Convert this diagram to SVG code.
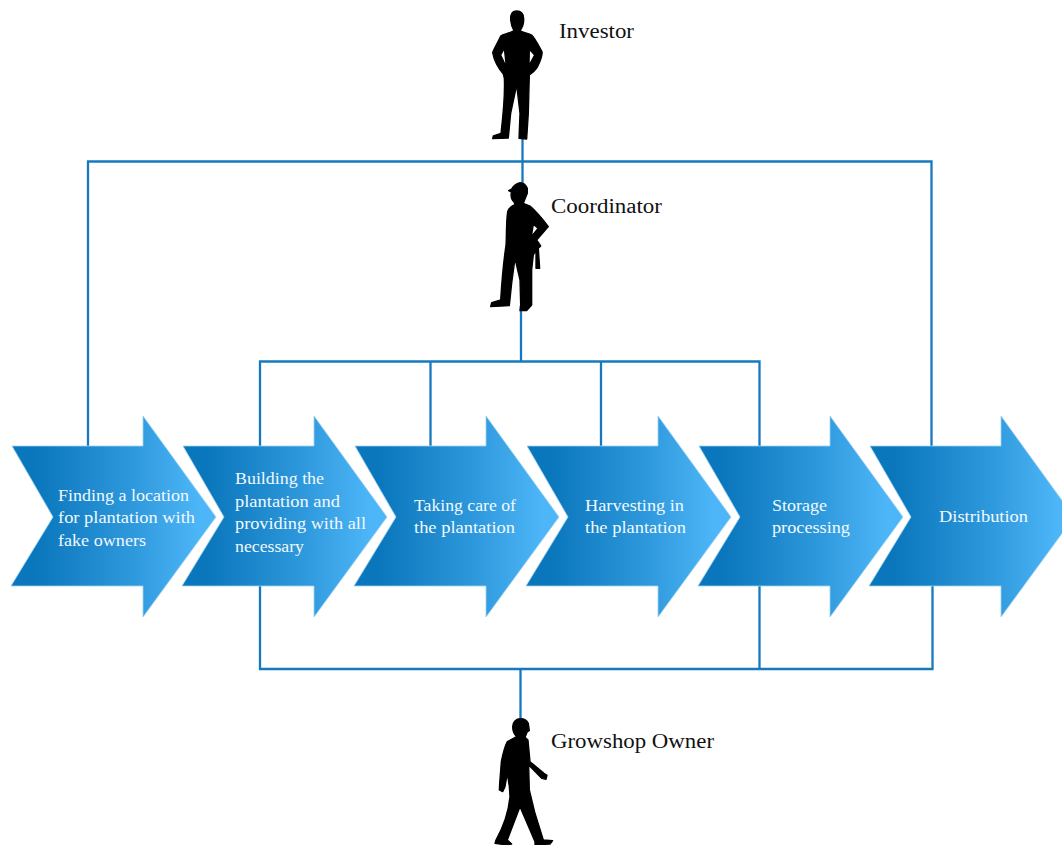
<svg xmlns="http://www.w3.org/2000/svg" width="1062" height="845" viewBox="0 0 1062 845">
<style>
.c{fill:none;stroke:#1679bf;stroke-width:2.300}
.a{fill:url(#g);stroke:#9dd2f3;stroke-width:1;stroke-opacity:.8}
.t{font-family:"Liberation Serif","Times New Roman",serif;font-size:17px;fill:#f2f9fe}
.l{font-family:"Liberation Serif","Times New Roman",serif;font-size:20px;fill:#111}
.p{fill:#000;fill-rule:evenodd;stroke:#000;stroke-width:4;stroke-linejoin:round}
</style>
<defs>
<linearGradient id="g" x1="0" y1="0" x2="1" y2="0"><stop offset=".12" stop-color="#0a76bb"/><stop offset=".6" stop-color="#2f99dd"/><stop offset=".92" stop-color="#4db6f8"/></linearGradient>
<path id="arrow" d="M0 30H131V0L204 101L131 201V170H-1L41 101Z"/>
</defs>
<g id="connectors">
<path class="c" d="M522.500 137V185M88 446V161.500H931.500V446"/>
<path class="c" d="M521 305V361.500M260 446V361.500H759.500V446M430.500 361.500V446M601 361.500V446"/>
<path class="c" d="M260 586V669H932.500V586M759.500 586V669M520.500 669V722"/>
</g>
<g id="investor"><path class="p" transform="translate(470 0) scale(.3333)" d="M140 33C125 33 121 45 122 60C123 75 128 85 132 92C118 100 100 102 92 108C85 125 72 145 68 158C72 180 85 205 100 222L103 235C105 280 100 340 93 400L70 408L68 416L115 414L122 340L140 255L150 340L147 415L170 417L175 340L178 225C190 215 200 210 205 195C212 180 218 165 216 155C205 135 195 115 185 105C175 100 160 98 150 92C158 82 162 70 161 55C160 40 152 33 140 33ZM103 145L92 165L106 195L108 190ZM178 148L194 165L177 197Z"/><text class="l" x="559" y="37.500" textLength="75" lengthAdjust="spacingAndGlyphs">Investor</text></g>
<g id="coordinator"><path class="p" transform="translate(470 170) scale(.3333)" d="M150 38C138 40 128 50 125 57L116 62L124 66C122 78 124 90 132 96L135 103C125 108 116 112 113 125C108 160 110 200 108 225C100 280 95 340 92 390L65 398L62 410L118 407L125 340L135 265L150 330L152 405L150 422L170 422L185 405L185 300L190 255L198 242L198 295L209 295L205 235L212 228L200 210L235 170C220 150 200 125 180 108L160 100L172 70L172 55C168 45 160 38 150 38ZM190 163L204 175L184 200Z"/><text class="l" x="551" y="212.500" textLength="111" lengthAdjust="spacingAndGlyphs">Coordinator</text></g>
<g id="growshop-owner"><path class="p" transform="translate(470 690) scale(.3333)" d="M152 86C138 86 128 96 128 110C128 125 135 135 140 140L112 155C104 170 98 195 94 215L89 280L88 300L98 305L105 290L112 250L118 290L120 320C115 370 95 420 78 450L75 460L110 465L125 462L112 450L150 350L195 455L195 465L240 462L248 452L220 450L195 370L178 300L176 225L215 265L228 268L231 256L222 250L180 215L174 150L165 142L172 125L178 122L175 100C170 90 162 86 152 86Z"/><text class="l" x="551" y="747.500" textLength="163" lengthAdjust="spacingAndGlyphs">Growshop Owner</text></g>
<g id="step1"><use href="#arrow" class="a" x="12" y="416"/><text class="t" x="58" y="500.500" textLength="131" lengthAdjust="spacingAndGlyphs">Finding a location</text><text class="t" x="58" y="522.500" textLength="137" lengthAdjust="spacingAndGlyphs">for plantation with</text><text class="t" x="58" y="545.500" textLength="88" lengthAdjust="spacingAndGlyphs">fake owners</text></g>
<g id="step2"><use href="#arrow" class="a" x="183" y="416"/><text class="t" x="235" y="483.500" textLength="89" lengthAdjust="spacingAndGlyphs">Building the</text><text class="t" x="235" y="506.500" textLength="105" lengthAdjust="spacingAndGlyphs">plantation and</text><text class="t" x="235" y="528.500" textLength="131" lengthAdjust="spacingAndGlyphs">providing with all</text><text class="t" x="235" y="551.500" textLength="69" lengthAdjust="spacingAndGlyphs">necessary</text></g>
<g id="step3"><use href="#arrow" class="a" x="355" y="416"/><text class="t" x="414" y="510.500" textLength="102" lengthAdjust="spacingAndGlyphs">Taking care of</text><text class="t" x="414" y="533" textLength="101" lengthAdjust="spacingAndGlyphs">the plantation</text></g>
<g id="step4"><use href="#arrow" class="a" x="527" y="416"/><text class="t" x="585" y="510.500" textLength="99" lengthAdjust="spacingAndGlyphs">Harvesting in</text><text class="t" x="585" y="533" textLength="101" lengthAdjust="spacingAndGlyphs">the plantation</text></g>
<g id="step5"><use href="#arrow" class="a" x="699" y="416"/><text class="t" x="772" y="510.500" textLength="55" lengthAdjust="spacingAndGlyphs">Storage</text><text class="t" x="772" y="533" textLength="78" lengthAdjust="spacingAndGlyphs">processing</text></g>
<g id="step6"><use href="#arrow" class="a" x="870" y="416"/><text class="t" x="939" y="522" textLength="89" lengthAdjust="spacingAndGlyphs">Distribution</text></g>
</svg>
